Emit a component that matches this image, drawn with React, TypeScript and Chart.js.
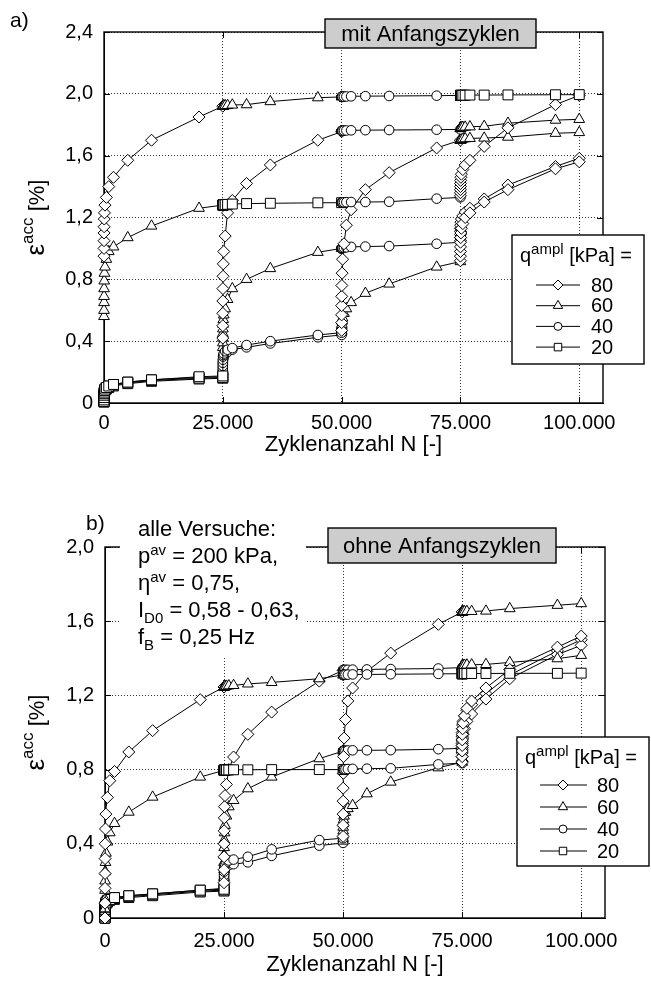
import React, { useEffect, useRef } from 'react';
import { Chart, registerables } from 'chart.js';

Chart.register(...registerables);

const FONT = '"Liberation Sans", Arial, Helvetica, sans-serif';

// Each test runs four loading stages of 25.000 cycles; within a stage the
// strain is sampled at these cycle counts (counted from the stage start).
const STAGE_CYCLES = 25000;
const STAGE_OFFSETS = [1, 2, 5, 10, 20, 50, 100, 200, 500, 1000, 2000, 5000, 10000, 20000, 25000];

const X_TICKS = [0, 25000, 50000, 75000, 100000];
const Y_TICKS_MIT = [0, 0.4, 0.8, 1.2, 1.6, 2.0, 2.4];
const Y_TICKS_OHNE = [0, 0.4, 0.8, 1.2, 1.6, 2.0];
const LEGEND_AMPLITUDES = [80, 60, 40, 20];

// amplitude q^ampl (kPa) of stages 1..4 in each test
const ORDER_1 = [80, 60, 40, 20];
const ORDER_2 = [60, 20, 40, 80];
const ORDER_3 = [20, 80, 40, 60];
const ORDER_4 = [20, 40, 80, 60];
const ORDER_5 = [20, 40, 60, 80];
const ORDER_6 = [20, 60, 40, 80];

// ---- accumulated strain [%] including the initial cycles (one row per stage)
const MIT_1 = [
  [0.95, 1.0, 1.05, 1.1, 1.14, 1.19, 1.23, 1.28, 1.33, 1.4, 1.46, 1.57, 1.7, 1.85, 1.92],
  [1.92, 1.92, 1.92, 1.921, 1.921, 1.922, 1.922, 1.923, 1.924, 1.925, 1.928, 1.93, 1.95, 1.975, 1.98],
  [1.98, 1.98, 1.98, 1.98, 1.98, 1.981, 1.981, 1.982, 1.982, 1.983, 1.984, 1.985, 1.986, 1.988, 1.99],
  [1.99, 1.99, 1.99, 1.99, 1.99, 1.99, 1.99, 1.991, 1.991, 1.991, 1.992, 1.992, 1.993, 1.994, 1.995],
];
const MIT_2 = [
  [0.56, 0.6, 0.65, 0.69, 0.74, 0.79, 0.84, 0.88, 0.93, 0.98, 1.01, 1.07, 1.145, 1.26, 1.28],
  [1.28, 1.28, 1.28, 1.28, 1.28, 1.28, 1.281, 1.282, 1.283, 1.285, 1.287, 1.29, 1.292, 1.295, 1.296],
  [1.296, 1.296, 1.296, 1.296, 1.297, 1.297, 1.297, 1.298, 1.298, 1.299, 1.3, 1.3, 1.302, 1.322, 1.33],
  [1.34, 1.36, 1.38, 1.4, 1.42, 1.44, 1.46, 1.48, 1.51, 1.54, 1.57, 1.66, 1.78, 1.93, 1.99],
];
const MIT_3 = [
  [0.01, 0.02, 0.035, 0.05, 0.06, 0.07, 0.08, 0.09, 0.1, 0.11, 0.12, 0.135, 0.15, 0.17, 0.175],
  [0.42, 0.5, 0.58, 0.66, 0.74, 0.82, 0.9, 0.98, 1.08, 1.23, 1.31, 1.42, 1.54, 1.7, 1.755],
  [1.76, 1.76, 1.76, 1.76, 1.76, 1.761, 1.761, 1.762, 1.762, 1.763, 1.764, 1.765, 1.766, 1.768, 1.77],
  [1.775, 1.777, 1.778, 1.779, 1.78, 1.781, 1.782, 1.783, 1.784, 1.785, 1.787, 1.79, 1.81, 1.83, 1.835],
];
const MIT_4 = [
  [0.01, 0.02, 0.03, 0.045, 0.055, 0.065, 0.075, 0.085, 0.095, 0.105, 0.115, 0.13, 0.145, 0.16, 0.165],
  [0.2, 0.22, 0.24, 0.26, 0.28, 0.3, 0.31, 0.32, 0.335, 0.345, 0.355, 0.375, 0.4, 0.44, 0.455],
  [0.47, 0.52, 0.57, 0.63, 0.69, 0.76, 0.84, 0.93, 1.03, 1.15, 1.25, 1.38, 1.49, 1.65, 1.7],
  [1.7, 1.7, 1.7, 1.7, 1.705, 1.705, 1.706, 1.707, 1.708, 1.71, 1.712, 1.714, 1.72, 1.745, 1.75],
];
const MIT_5 = [
  [0.005, 0.015, 0.025, 0.04, 0.05, 0.06, 0.07, 0.08, 0.09, 0.1, 0.11, 0.125, 0.14, 0.155, 0.16],
  [0.19, 0.21, 0.23, 0.25, 0.265, 0.28, 0.29, 0.3, 0.315, 0.33, 0.345, 0.36, 0.385, 0.425, 0.44],
  [0.46, 0.47, 0.48, 0.49, 0.5, 0.51, 0.53, 0.55, 0.58, 0.61, 0.65, 0.71, 0.77, 0.88, 0.915],
  [0.92, 0.95, 0.98, 1.01, 1.04, 1.07, 1.1, 1.13, 1.16, 1.2, 1.23, 1.3, 1.38, 1.515, 1.56],
];
const MIT_6 = [
  [0.01, 0.02, 0.03, 0.045, 0.06, 0.07, 0.08, 0.09, 0.1, 0.11, 0.12, 0.135, 0.15, 0.165, 0.17],
  [0.36, 0.39, 0.42, 0.45, 0.48, 0.51, 0.54, 0.57, 0.61, 0.67, 0.74, 0.8, 0.87, 0.975, 1.0],
  [1.0, 1.0, 1.0, 1.0, 1.001, 1.002, 1.003, 1.004, 1.005, 1.007, 1.01, 1.012, 1.015, 1.03, 1.04],
  [1.05, 1.07, 1.09, 1.11, 1.13, 1.15, 1.17, 1.19, 1.21, 1.235, 1.26, 1.32, 1.41, 1.53, 1.583],
];

// ---- accumulated strain [%] without the initial cycles
const OHNE_1 = [
  [0.0, 0.08, 0.16, 0.24, 0.32, 0.4, 0.48, 0.56, 0.65, 0.74, 0.79, 0.895, 1.01, 1.177, 1.245],
  [1.245, 1.245, 1.246, 1.246, 1.247, 1.247, 1.248, 1.249, 1.25, 1.252, 1.254, 1.262, 1.27, 1.29, 1.31],
  [1.31, 1.31, 1.31, 1.31, 1.31, 1.31, 1.311, 1.311, 1.312, 1.312, 1.313, 1.313, 1.314, 1.316, 1.317],
  [1.317, 1.317, 1.317, 1.317, 1.317, 1.317, 1.317, 1.318, 1.318, 1.318, 1.318, 1.318, 1.319, 1.319, 1.32],
];
const OHNE_2 = [
  [0.0, 0.05, 0.1, 0.15, 0.2, 0.25, 0.3, 0.35, 0.41, 0.46, 0.51, 0.571, 0.652, 0.76, 0.796],
  [0.796, 0.796, 0.796, 0.797, 0.797, 0.797, 0.797, 0.798, 0.798, 0.798, 0.799, 0.799, 0.8, 0.8, 0.8],
  [0.8, 0.8, 0.8, 0.8, 0.8, 0.801, 0.801, 0.802, 0.802, 0.803, 0.804, 0.805, 0.807, 0.828, 0.835],
  [0.84, 0.87, 0.9, 0.93, 0.96, 0.99, 1.02, 1.05, 1.09, 1.13, 1.17, 1.24, 1.34, 1.46, 1.52],
];
const OHNE_3 = [
  [0.0, 0.015, 0.03, 0.045, 0.055, 0.065, 0.075, 0.085, 0.095, 0.1, 0.11, 0.12, 0.13, 0.15, 0.155],
  [0.19, 0.26, 0.33, 0.4, 0.47, 0.54, 0.6, 0.66, 0.72, 0.8, 0.868, 0.99, 1.11, 1.277, 1.335],
  [1.335, 1.335, 1.335, 1.335, 1.336, 1.336, 1.337, 1.337, 1.338, 1.338, 1.339, 1.34, 1.342, 1.345, 1.35],
  [1.355, 1.356, 1.357, 1.358, 1.359, 1.36, 1.361, 1.362, 1.363, 1.364, 1.365, 1.367, 1.378, 1.398, 1.416],
];
const OHNE_4 = [
  [0.0, 0.012, 0.025, 0.04, 0.05, 0.06, 0.07, 0.08, 0.09, 0.1, 0.105, 0.115, 0.125, 0.145, 0.15],
  [0.17, 0.19, 0.21, 0.23, 0.25, 0.265, 0.28, 0.29, 0.3, 0.31, 0.315, 0.33, 0.37, 0.42, 0.43],
  [0.44, 0.5, 0.56, 0.63, 0.7, 0.78, 0.87, 0.97, 1.07, 1.17, 1.24, 1.33, 1.428, 1.583, 1.65],
  [1.65, 1.65, 1.65, 1.65, 1.65, 1.651, 1.651, 1.652, 1.652, 1.653, 1.653, 1.655, 1.668, 1.686, 1.695],
];
const OHNE_5 = [
  [0.0, 0.01, 0.02, 0.035, 0.045, 0.055, 0.065, 0.075, 0.085, 0.095, 0.1, 0.11, 0.12, 0.14, 0.145],
  [0.16, 0.18, 0.2, 0.22, 0.235, 0.25, 0.26, 0.27, 0.28, 0.285, 0.29, 0.3, 0.335, 0.39, 0.405],
  [0.415, 0.43, 0.45, 0.47, 0.49, 0.51, 0.53, 0.55, 0.57, 0.59, 0.607, 0.67, 0.733, 0.81, 0.84],
  [0.845, 0.87, 0.89, 0.91, 0.93, 0.95, 0.97, 0.99, 1.02, 1.06, 1.1, 1.18, 1.29, 1.42, 1.47],
];
const OHNE_6 = [
  [0.0, 0.015, 0.03, 0.04, 0.05, 0.06, 0.07, 0.08, 0.09, 0.1, 0.11, 0.12, 0.13, 0.15, 0.16],
  [0.22, 0.26, 0.3, 0.34, 0.38, 0.42, 0.46, 0.5, 0.55, 0.6, 0.634, 0.697, 0.76, 0.859, 0.9],
  [0.9, 0.9, 0.9, 0.9, 0.9, 0.901, 0.901, 0.902, 0.902, 0.903, 0.904, 0.904, 0.905, 0.91, 0.915],
  [0.92, 0.94, 0.96, 0.98, 1.0, 1.02, 1.04, 1.06, 1.09, 1.12, 1.15, 1.21, 1.31, 1.44, 1.5],
];

// marker per amplitude
const MARKERS: Record<number, { style: string; radius: number; legendRadius: number }> = {
  80: { style: 'rectRot', radius: 6, legendRadius: 5 },
  60: { style: 'triangle', radius: 6.2, legendRadius: 5.4 },
  40: { style: 'circle', radius: 4.8, legendRadius: 4 },
  20: { style: 'rect', radius: 7, legendRadius: 5.3 },
};

type Run = { t: string; size?: number; shift?: number };

const SUP = { size: 15, shift: -8 };
const SUB = { size: 15, shift: 6 };

const NOTE_LINES: Run[][] = [
  [{ t: 'alle Versuche:' }],
  [{ t: 'p' }, { t: 'av', ...SUP }, { t: ' = 200 kPa,' }],
  [{ t: '\u03b7' }, { t: 'av', ...SUP }, { t: ' = 0,75,' }],
  [{ t: 'I' }, { t: 'D0', ...SUB }, { t: ' = 0,58 - 0,63,' }],
  [{ t: 'f' }, { t: 'B', ...SUB }, { t: ' = 0,25 Hz' }],
];

const fmtCycles = (v: number) => (v === 0 ? '0' : String(v).replace(/\B(?=(\d{3})+(?!\d))/g, '.'));
const fmtStrain = (v: number) => (v === 0 ? '0' : v.toFixed(1).replace('.', ','));

function drawRich(ctx: CanvasRenderingContext2D, runs: Run[], x: number, y: number, base: number, align = 'left') {
  let w = 0;
  runs.forEach((r) => {
    ctx.font = `${r.size ?? base}px ${FONT}`;
    w += ctx.measureText(r.t).width;
  });
  let cx = align === 'center' ? x - w / 2 : x;
  ctx.textAlign = 'left';
  runs.forEach((r) => {
    ctx.font = `${r.size ?? base}px ${FONT}`;
    ctx.fillText(r.t, cx, y + (r.shift ?? 0));
    cx += ctx.measureText(r.t).width;
  });
}

function drawMarker(ctx: CanvasRenderingContext2D, style: string, x: number, y: number, r: number) {
  ctx.beginPath();
  if (style === 'rectRot') {
    ctx.moveTo(x - r, y);
    ctx.lineTo(x, y - r);
    ctx.lineTo(x + r, y);
    ctx.lineTo(x, y + r);
    ctx.closePath();
  } else if (style === 'triangle') {
    const c = Math.cos(Math.PI / 6) * r;
    ctx.moveTo(x, y - r);
    ctx.lineTo(x + c, y + r / 2);
    ctx.lineTo(x - c, y + r / 2);
    ctx.closePath();
  } else if (style === 'circle') {
    ctx.arc(x, y, r, 0, Math.PI * 2);
  } else {
    const s = r * Math.SQRT1_2;
    ctx.rect(x - s, y - s, 2 * s, 2 * s);
  }
  ctx.fillStyle = '#fff';
  ctx.fill();
  ctx.stroke();
}

function buildDataset(order: number[], stages: number[][]) {
  const data: { x: number; y: number }[] = [];
  const styles: string[] = [];
  const radii: number[] = [];
  stages.forEach((values, s) => {
    values.forEach((v, i) => {
      data.push({ x: s * STAGE_CYCLES + STAGE_OFFSETS[i], y: v });
      styles.push(MARKERS[order[s]].style);
      radii.push(MARKERS[order[s]].radius);
    });
  });
  return {
    data,
    showLine: true,
    borderColor: '#000',
    borderWidth: 1,
    pointStyle: styles,
    pointRadius: radii,
    pointHoverRadius: radii,
    pointBackgroundColor: '#fff',
    pointBorderColor: '#000',
    pointBorderWidth: 1,
    clip: false,
  };
}

const PANEL_MIT = {
  top: 0,
  height: 470,
  padTop: 32,
  padRight: 48,
  yAxisWidth: 104,
  xAxisHeight: 67,
  xTickPad: 8,
  yMax: 2.4,
  yTicks: Y_TICKS_MIT,
  tests: [
    [ORDER_1, MIT_1], [ORDER_2, MIT_2], [ORDER_3, MIT_3],
    [ORDER_4, MIT_4], [ORDER_5, MIT_5], [ORDER_6, MIT_6],
  ],
  title: 'mit Anfangszyklen',
  titleBox: { x: 325, y: 19, w: 211, h: 29 },
  legend: { x: 512, y: 235, w: 132, h: 129, titleBase: 27, row0: 50, rowGap: 20.7, lineFrom: 24, lineTo: 68, marker: 46, text: 79 },
  label: { text: 'a)', x: 10, y: 27 },
  xTitleY: 451,
  yTitleX: 36,
  mask: null as null | { x: number; y: number; w: number; h: number },
  notes: null as null | Run[][],
};

const PANEL_OHNE = {
  top: 470,
  height: 517,
  padTop: 77,
  padRight: 46,
  yAxisWidth: 105,
  xAxisHeight: 69,
  xTickPad: 11,
  yMax: 2.0,
  yTicks: Y_TICKS_OHNE,
  tests: [
    [ORDER_1, OHNE_1], [ORDER_2, OHNE_2], [ORDER_3, OHNE_3],
    [ORDER_4, OHNE_4], [ORDER_5, OHNE_5], [ORDER_6, OHNE_6],
  ],
  title: 'ohne Anfangszyklen',
  titleBox: { x: 328, y: 58, w: 228, h: 35 },
  legend: { x: 517, y: 267, w: 132, h: 129, titleBase: 27, row0: 48, rowGap: 22, lineFrom: 23, lineTo: 70, marker: 46, text: 80 },
  label: { text: 'b)', x: 86, y: 60 },
  xTitleY: 501,
  yTitleX: 36,
  mask: { x: 120, y: 56, w: 186, h: 132 },
  notes: NOTE_LINES,
};

type Panel = typeof PANEL_MIT;

function decorations(p: Panel) {
  return {
    id: 'decorations',
    beforeDatasetsDraw(chart: any) {
      const { ctx, chartArea: a } = chart;
      const xs = chart.scales.x;
      const ys = chart.scales.y;
      ctx.save();
      ctx.strokeStyle = '#000';
      ctx.lineWidth = 1;
      ctx.beginPath();
      X_TICKS.forEach((v) => {
        const x = Math.round(xs.getPixelForValue(v)) + 0.5;
        ctx.moveTo(x, a.bottom);
        ctx.lineTo(x, a.bottom - 6);
        ctx.moveTo(x, a.top);
        ctx.lineTo(x, a.top + 6);
      });
      p.yTicks.forEach((v) => {
        const y = Math.round(ys.getPixelForValue(v)) + 0.5;
        ctx.moveTo(a.left, y);
        ctx.lineTo(a.left + 6, y);
        ctx.moveTo(a.right, y);
        ctx.lineTo(a.right - 6, y);
      });
      ctx.stroke();
      ctx.lineWidth = 1.4;
      ctx.strokeRect(a.left, a.top, a.right - a.left, a.bottom - a.top);
      if (p.mask) {
        ctx.fillStyle = '#fff';
        ctx.fillRect(p.mask.x, p.mask.y, p.mask.w, p.mask.h);
      }
      ctx.restore();
    },
    afterDraw(chart: any) {
      const { ctx, chartArea: a } = chart;
      ctx.save();
      ctx.fillStyle = '#000';
      ctx.strokeStyle = '#000';

      // title box
      const b = p.titleBox;
      ctx.fillStyle = '#cdcdcd';
      ctx.fillRect(b.x, b.y, b.w, b.h);
      ctx.lineWidth = 1.4;
      ctx.strokeRect(b.x, b.y, b.w, b.h);
      ctx.fillStyle = '#000';
      ctx.font = `22px ${FONT}`;
      ctx.textAlign = 'center';
      ctx.textBaseline = 'middle';
      ctx.fillText(p.title, b.x + b.w / 2, b.y + b.h / 2 + 1);

      // legend
      const L = p.legend;
      ctx.fillStyle = '#fff';
      ctx.fillRect(L.x, L.y, L.w, L.h);
      ctx.lineWidth = 1.4;
      ctx.strokeRect(L.x, L.y, L.w, L.h);
      ctx.fillStyle = '#000';
      ctx.textBaseline = 'alphabetic';
      drawRich(ctx, [{ t: 'q' }, { t: 'ampl', size: 15, shift: -8 }, { t: ' [kPa] =' }], L.x + 8, L.y + L.titleBase, 20);
      LEGEND_AMPLITUDES.forEach((amp, i) => {
        const y = L.y + L.row0 + i * L.rowGap;
        ctx.lineWidth = 1;
        ctx.beginPath();
        ctx.moveTo(L.x + L.lineFrom, y);
        ctx.lineTo(L.x + L.lineTo, y);
        ctx.stroke();
        drawMarker(ctx, MARKERS[amp].style, L.x + L.marker, y, MARKERS[amp].legendRadius);
        ctx.fillStyle = '#000';
        ctx.font = `20px ${FONT}`;
        ctx.textAlign = 'left';
        ctx.textBaseline = 'middle';
        ctx.fillText(String(amp), L.x + L.text, y + 1);
      });

      // axis titles
      ctx.textBaseline = 'alphabetic';
      ctx.font = `22px ${FONT}`;
      ctx.textAlign = 'center';
      ctx.fillText('Zyklenanzahl N [-]', (a.left + a.right) / 2, p.xTitleY);

      ctx.save();
      ctx.translate(p.yTitleX, (a.top + a.bottom) / 2);
      ctx.rotate(-Math.PI / 2);
      drawRich(
        ctx,
        [{ t: '\u03b5', size: 26 }, { t: 'acc', size: 17, shift: -11 }, { t: ' [%]' }],
        0,
        8,
        22,
        'center',
      );
      ctx.restore();

      // panel label
      ctx.font = `21px ${FONT}`;
      ctx.textAlign = 'left';
      ctx.fillText(p.label.text, p.label.x, p.label.y);

      // test conditions
      if (p.notes) {
        p.notes.forEach((line, i) => drawRich(ctx, line, 138, 66 + i * 27, 22));
      }
      ctx.restore();
    },
  };
}

function buildConfig(p: Panel): any {
  const grid = { color: '#333', lineWidth: 1, drawTicks: false };
  const border = { display: true, color: '#000', width: 1, dash: [1, 2] };
  return {
    type: 'scatter',
    data: { datasets: p.tests.map(([order, stages]: any) => buildDataset(order, stages)) },
    options: {
      responsive: false,
      animation: false,
      devicePixelRatio: 1,
      events: [],
      layout: { padding: { top: p.padTop, right: p.padRight, bottom: 0, left: 0 } },
      plugins: { legend: { display: false }, tooltip: { enabled: false } },
      scales: {
        x: {
          type: 'linear',
          position: 'bottom',
          min: 0,
          max: 105000,
          afterBuildTicks: (s: any) => {
            s.ticks = X_TICKS.map((value) => ({ value }));
          },
          afterFit: (s: any) => {
            s.height = p.xAxisHeight;
          },
          ticks: {
            autoSkip: false,
            maxRotation: 0,
            padding: p.xTickPad,
            color: '#000',
            font: { family: FONT, size: 20 },
            callback: (v: any) => fmtCycles(Number(v)),
          },
          grid,
          border,
        },
        y: {
          type: 'linear',
          position: 'left',
          min: 0,
          max: p.yMax,
          afterBuildTicks: (s: any) => {
            s.ticks = p.yTicks.map((value) => ({ value }));
          },
          afterFit: (s: any) => {
            s.width = p.yAxisWidth;
          },
          ticks: {
            padding: 11,
            color: '#000',
            font: { family: FONT, size: 20 },
            callback: (v: any) => fmtStrain(Number(v)),
          },
          grid,
          border,
        },
      },
    },
    plugins: [decorations(p)],
  };
}

function PanelChart({ panel }: { panel: Panel }) {
  const ref = useRef<HTMLCanvasElement>(null);
  useEffect(() => {
    const chart = new Chart(ref.current as HTMLCanvasElement, buildConfig(panel));
    return () => chart.destroy();
  }, [panel]);
  return (
    <canvas
      ref={ref}
      width={651}
      height={panel.height}
      style={{ position: 'absolute', left: 0, top: panel.top, display: 'block' }}
    />
  );
}

export default function App() {
  return (
    <div style={{ position: 'fixed', left: 0, top: 0, width: 651, height: 987, background: '#fff', overflow: 'hidden' }}>
      <PanelChart panel={PANEL_MIT} />
      <PanelChart panel={PANEL_OHNE} />
    </div>
  );
}
